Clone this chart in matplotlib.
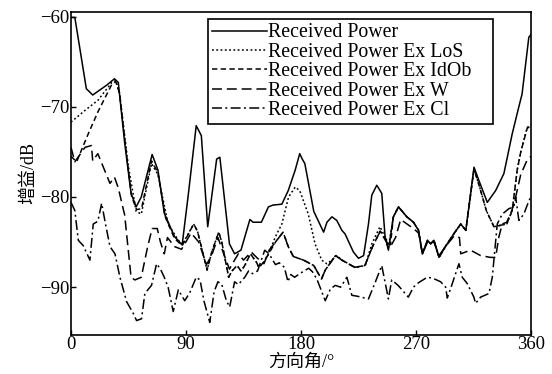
import numpy as np
import matplotlib.pyplot as plt

plt.rcParams['font.family'] = ['Liberation Serif', 'Noto Sans CJK SC']
plt.rcParams['axes.unicode_minus'] = True

# Received Power
rp_ang = [0, 3, 12, 17, 28, 34, 37, 42, 47, 51, 55, 63.5, 68, 73, 81, 87, 92, 98, 102, 107,
          114, 116.5, 124, 128, 133, 140, 142.5, 149, 154.5, 158, 165, 170, 175.5, 179, 181,
          183, 190, 197.7, 200.3, 204.2, 208, 212, 214.5, 221, 225, 229, 232.8, 235.4, 239.3,
          243.2, 245.8, 248.4, 252.3, 256.3, 262.8, 268, 272, 275, 279, 281.5, 284, 288, 293,
          300, 305, 309, 315.4, 319.3, 325.8, 332.3, 338.8, 345.3, 350.5, 353, 358.3, 360]
rp_db = [-60.1, -60.1, -68.0, -68.7, -67.6, -66.9, -67.3, -74.0, -79.6, -81.1, -80.0, -75.3,
         -77.0, -81.8, -84.4, -85.3, -79.5, -72.1, -73.2, -83.3, -75.8, -75.6, -85.2, -86.3,
         -85.9, -82.5, -82.8, -82.8, -81.1, -80.9, -80.8, -79.3, -77.0, -75.2, -75.8, -76.3,
         -81.6, -83.9, -82.8, -82.2, -82.6, -83.7, -84.1, -86.1, -86.8, -86.5, -83.0, -79.8,
         -78.7, -79.6, -84.4, -85.9, -82.2, -81.1, -82.2, -82.8, -83.7, -86.3, -84.8, -85.2,
         -84.8, -86.7, -85.5, -84.0, -83.0, -83.7, -76.7, -78.2, -80.6, -79.3, -77.4, -73.0,
         -70.0, -68.6, -62.3, -62.0]

# Received Power Ex LoS
los_ang = [0, 11, 21, 32, 35, 38, 45, 51, 55, 63, 68, 76, 84, 87, 96, 99, 106.5, 110.4, 115.6,
           118, 123.4, 126, 130, 133, 136, 140.4, 145, 147, 151, 154.7, 160, 165, 170.3, 175.5,
           179, 185.7, 191, 196.2, 200.2, 204.1, 208, 212, 217.2, 222.5, 230.3, 235.4, 241.8,
           245.7, 248.3, 252.3, 256.3, 262.8, 268, 272, 275, 279, 281.5, 284, 288, 293, 300,
           305, 309, 315.4, 320, 325, 331, 337.5, 341, 345.3, 349.2, 352, 357, 360]
los_db = [-71.7, -70.4, -69.3, -67.3, -67.1, -68.5, -76.7, -81.6, -81.9, -76.3, -77.5, -83.0,
          -84.8, -85.3, -83.0, -83.8, -88.1, -86.0, -83.9, -85.0, -88.9, -88.2, -87.6, -88.2,
          -87.6, -86.3, -87.2, -87.8, -87.2, -86.3, -84.4, -83.0, -80.0, -78.9, -79.3, -81.9,
          -85.2, -87.0, -87.4, -87.0, -86.5, -87.0, -87.4, -87.8, -87.6, -85.2, -83.3, -84.4,
          -85.7, -82.2, -81.1, -82.2, -82.8, -83.7, -86.3, -84.8, -85.2, -84.8, -86.7, -85.5,
          -84.0, -83.0, -83.7, -76.9, -79.0, -81.5, -83.3, -83.1, -83.0, -81.5, -77.0, -75.0,
          -72.3, -72.0]

# Received Power Ex IdOb
idob_ang = [0, 4.4, 13.5, 21.3, 32, 35, 38, 44, 47.4, 51.3, 55.2, 63, 68, 74, 81, 87, 96, 99,
            106.5, 110.4, 115.6, 118, 123.4, 126, 130, 133, 136, 140.4, 145, 147, 151, 154.7,
            160, 166, 170, 174, 178, 182, 190, 196, 199, 207, 212, 217, 222, 230, 236, 242,
            246, 250, 252.3, 256.3, 262.8, 268, 272, 275, 279, 281.5, 284, 288, 293, 300, 305,
            309, 315.4, 320, 325, 331, 337.5, 341, 345.3, 349.2, 352, 357, 360]
idob_db = [-75.5, -76.1, -73.0, -70.5, -67.5, -67.2, -68.5, -76.0, -79.9, -81.4, -81.3, -76.0,
           -77.3, -82.3, -84.6, -85.4, -83.0, -83.8, -88.1, -86.0, -83.9, -85.0, -88.9, -88.2,
           -87.6, -88.2, -87.6, -86.3, -87.2, -87.8, -87.2, -86.3, -85.0, -83.9, -85.5, -86.6,
           -86.8, -87.0, -87.6, -89.1, -88.1, -86.5, -87.0, -87.4, -87.8, -87.6, -85.5, -83.8,
           -84.6, -85.3, -82.2, -81.1, -82.2, -82.8, -83.7, -86.3, -84.8, -85.2, -84.8, -86.7,
           -85.5, -84.0, -83.0, -83.7, -76.9, -79.0, -81.5, -83.3, -83.1, -83.0, -81.5, -77.0,
           -75.0, -72.4, -72.1]

# Received Power Ex W
w_ang = [0, 3, 11, 16, 17, 21, 30.5, 34, 37, 42, 47, 50, 55, 60, 63.5, 67.5, 70, 73, 75.5, 81,
         86.5, 94, 100, 106, 110, 115, 120, 124, 128, 131, 135, 141, 146, 151, 155, 160, 166,
         170, 174, 178, 182, 190, 196, 199, 207, 212, 217, 222, 230, 236, 242, 246, 250, 254,
         258, 263, 268, 272, 275, 279, 284, 288, 293, 300, 304, 305, 312.7, 320.6, 328.4,
         332.3, 334.9, 337.5, 341, 345, 348, 352, 357, 360]
w_db = [-74.5, -76.1, -74.5, -74.3, -76.0, -75.2, -78.5, -77.8, -79.0, -82.0, -88.9, -89.2,
        -88.9, -85.5, -83.5, -83.5, -85.0, -86.3, -84.5, -85.5, -85.8, -84.0, -85.0, -87.5,
        -86.5, -84.5, -86.5, -88.0, -87.0, -86.3, -87.0, -86.1, -86.8, -87.4, -85.9, -85.0,
        -83.9, -85.5, -86.6, -86.8, -87.0, -87.6, -89.1, -88.1, -86.5, -87.0, -87.4, -87.8,
        -87.6, -85.5, -83.8, -84.8, -85.5, -84.5, -82.5, -83.0, -83.5, -84.0, -86.3, -85.0,
        -85.0, -86.5, -85.5, -84.3, -84.5, -86.3, -85.9, -86.5, -86.7, -86.7, -84.4, -83.0,
        -82.8, -81.5, -80.0, -77.5, -75.9, -75.5]

# Received Power Ex Cl
cl_ang = [0, 3, 5.7, 9.6, 14.8, 17.4, 21, 24, 27, 30.5, 34.4, 38.3, 43.5, 48.7, 51.3, 55.2,
          57.8, 63, 67, 70, 73, 76, 80, 84, 89, 93, 98, 101, 104, 108.6, 112, 115, 118, 121.6,
          124.2, 128, 131, 136, 139, 142, 146, 151.6, 155, 160, 163, 167, 169.8, 172, 175, 179,
          186, 189, 192.4, 199, 203, 206.8, 211, 215.9, 219.8, 224, 232.8, 238, 243.2, 248.4,
          251, 256, 264, 268, 272, 278.8, 283, 289.3, 293.2, 294.5, 298.4, 303.6, 306.2, 310.1,
          315.3, 316.6, 320.6, 327.1, 329.7, 333.6, 337.5, 342.7, 346.6, 348, 350.5, 354.4,
          358.4, 360]
cl_db = [-80.6, -81.5, -84.8, -85.4, -87.0, -83.0, -82.7, -80.7, -83.0, -85.5, -86.3, -88.9,
         -91.6, -92.9, -93.7, -93.5, -90.7, -89.8, -87.4, -88.0, -88.9, -90.0, -92.7, -90.3,
         -91.5, -90.6, -88.9, -89.2, -91.5, -93.9, -90.5, -89.4, -89.7, -91.5, -92.2, -89.4,
         -89.7, -88.9, -88.2, -88.5, -88.2, -85.9, -86.3, -87.5, -87.3, -87.8, -89.4, -88.6,
         -88.9, -88.5, -87.9, -88.3, -89.1, -91.5, -90.2, -89.8, -90.0, -88.9, -90.9, -91.0,
         -91.3, -89.5, -87.6, -91.3, -89.2, -89.8, -91.1, -90.0, -89.5, -88.9, -89.0, -89.4,
         -90.0, -91.2, -89.6, -87.4, -88.9, -89.6, -91.1, -91.8, -91.1, -90.7, -88.9, -83.0,
         -81.9, -81.3, -81.1, -80.0, -82.6, -81.9, -80.4, -80.0]

labels = ['Received Power', 'Received Power Ex LoS', 'Received Power Ex IdOb',
          'Received Power Ex W', 'Received Power Ex Cl']

fig = plt.figure(figsize=(5.52, 3.74), dpi=100)
ax = fig.add_axes([71/552, 1-335/374, 460/552, 323/374])

lw = 1.1
ax.plot(rp_ang, rp_db, color='k', lw=lw, ls='-', label=labels[0])
ax.plot(los_ang, los_db, color='k', lw=lw, ls=(0, (1.2, 1.6)), label=labels[1])
ax.plot(idob_ang, idob_db, color='k', lw=lw, ls=(0, (3.5, 2.2)), label=labels[2])
ax.plot(w_ang, w_db, color='k', lw=lw, ls=(0, (6.5, 3.2)), label=labels[3])
ax.plot(cl_ang, cl_db, color='k', lw=lw, ls=(0, (6.5, 2.2, 1.3, 2.2)), label=labels[4])

ax.set_xlim(0, 360)
ax.set_ylim(-95.3, -59.5)
ax.set_xticks([0, 90, 180, 270, 360])
ax.set_yticks([-60, -70, -80, -90])
ax.tick_params(direction='in', length=3.5, width=1, labelsize=13.5, pad=1,
               top=False, right=False)
for s in ax.spines.values():
    s.set_linewidth(1.2)

ax.set_xlabel('方向角/°', fontsize=13, labelpad=0)
ax.set_ylabel('增益/dB', fontsize=13, labelpad=2)

# legend box stretched to a fixed width, entries stay left aligned
leg = ax.legend(loc='upper left', bbox_to_anchor=(0.298, 0.656, 0.619, 0.322),
                mode='expand', borderaxespad=0,
                fancybox=False, edgecolor='k', fontsize=14.3, handlelength=2.75,
                handletextpad=0.05, labelspacing=0.02, borderpad=0.22, framealpha=1)
leg.get_frame().set_linewidth(1.2)

fig.savefig('out.png', dpi=100)
